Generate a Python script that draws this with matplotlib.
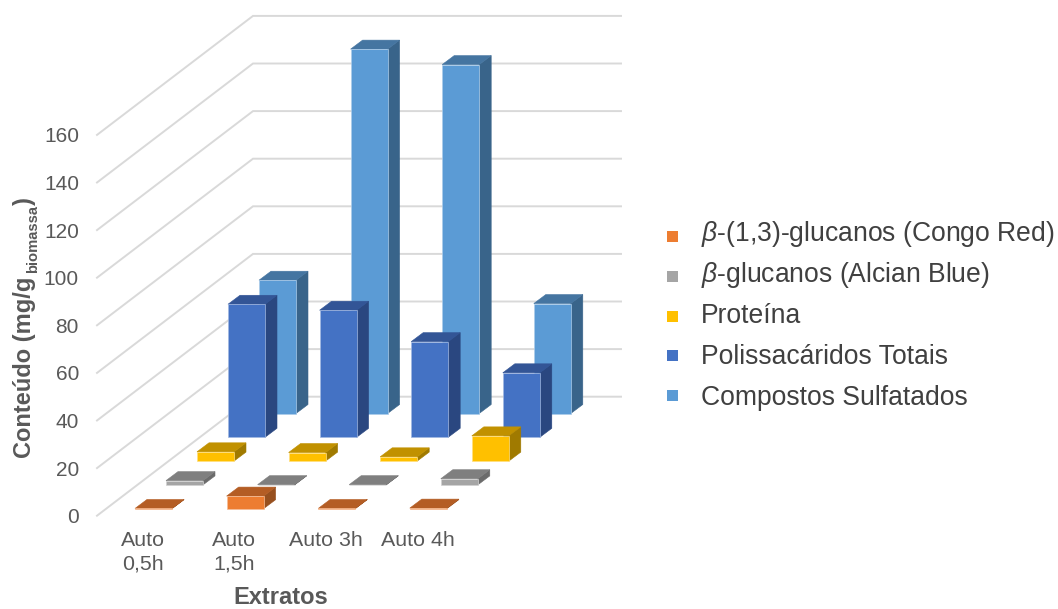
import matplotlib
matplotlib.use("Agg")
import matplotlib.pyplot as plt
from matplotlib.patches import Polygon, Rectangle
from matplotlib.transforms import Affine2D

plt.rcParams['font.family'] = ['Liberation Sans', 'DejaVu Sans']
plt.rcParams['mathtext.fontset'] = 'custom'
plt.rcParams['mathtext.rm'] = 'Liberation Sans'
plt.rcParams['mathtext.it'] = 'Liberation Sans:italic'
plt.rcParams['mathtext.bf'] = 'Liberation Sans:bold'
plt.rcParams['mathtext.default'] = 'regular'

categories = ["Auto\n0,5h", "Auto\n1,5h", "Auto 3h", "Auto 4h"]
yticks = [0, 20, 40, 60, 80, 100, 120, 140, 160]

# front row first, same order as the legend
congo = [0.1, 5.3, 0.1, 0.25]
alcian = [1.8, 0.1, 0.1, 2.6]
proteina = [3.9, 3.6, 1.8, 10.6]
polissacaridos = [55.9, 53.4, 40.2, 27.1]
sulfatados = [56.0, 153.1, 146.6, 46.2]

series = [congo, alcian, proteina, polissacaridos, sulfatados]
labels = [r"$\mathit{\beta}$-(1,3)-glucanos (Congo Red)",
          r"$\mathit{\beta}$-glucanos (Alcian Blue)",
          "Proteína", "Polissacáridos Totais", "Compostos Sulfatados"]

front_col = ["#ED7D31", "#A5A5A5", "#FFC000", "#4472C4", "#5B9BD5"]
top_col = ["#B45D24", "#7F7F7F", "#C19100", "#335596", "#4575A1"]
side_col = ["#97501F", "#6B6B6B", "#A07A00", "#2A4780", "#39648A"]
edge_col = ["#F6BE98", "#D2D2D2", "#FFDF80", "#A2B8E1", "#ADCDEA"]

W, H = 1058, 609
X0, Y0 = 97, 515.7      # pixel position of category 0, value 0, front of the floor
CAT_PX = 91.6
VAL_PX = 2.38

# oblique projection, all in axes units (1 x unit = one category)
ROW_DX, ROW_DV = 31 / CAT_PX, 10.0
WALL_DX, WALL_DV = 156 / CAT_PX, 50.0
WALL_W = 368 / CAT_PX
BAR_X0, BAR_V0 = 38 / CAT_PX, 7 / VAL_PX
BAR_W = 37 / CAT_PX
BAR_DX, BAR_DV = 12 / CAT_PX, 9 / VAL_PX

fig = plt.figure(figsize=(W / 100, H / 100), dpi=100)
ax = fig.add_axes([0, 0, 1, 1])
ax.set_xlim(-X0 / CAT_PX, (W - X0) / CAT_PX)
ax.set_ylim((Y0 - H) / VAL_PX, Y0 / VAL_PX)
ax.axis("off")

# pixel coordinates from the top left, for the texts outside the plot
pix = Affine2D().scale(1, -1).translate(0, H)

for v in yticks:
    ax.plot([0, WALL_DX, WALL_DX + WALL_W], [v, v + WALL_DV, v + WALL_DV],
            color="#D9D9D9", lw=1.4, solid_joinstyle="miter", zorder=1)
    ax.text(-18 / CAT_PX, v, str(v), ha="right", va="center_baseline",
            fontsize=15, color="#595959")

z = 2
for r in range(len(series) - 1, -1, -1):
    for i, val in enumerate(series[r]):
        x = i + BAR_X0 + r * ROW_DX
        b = BAR_V0 + r * ROW_DV
        t = b + val
        x2 = x + BAR_W
        xb, vb = BAR_DX, BAR_DV
        ax.add_patch(Polygon([(x2, b), (x2 + xb, b + vb), (x2 + xb, t + vb), (x2, t)],
                             facecolor=side_col[r], edgecolor=side_col[r], lw=0.4, zorder=z))
        ax.add_patch(Polygon([(x, t), (x2, t), (x2 + xb, t + vb), (x + xb, t + vb)],
                             facecolor=top_col[r], edgecolor=top_col[r], lw=0.4, zorder=z))
        ax.add_patch(Polygon([(x, b), (x2, b), (x2, t), (x, t)],
                             facecolor=front_col[r], edgecolor=edge_col[r], lw=0.5,
                             joinstyle="miter", zorder=z))
        z += 1

for i, c in enumerate(categories):
    ax.text(i + 0.5, (Y0 - 531) / VAL_PX, c, ha="center", va="top", fontsize=15.4,
            color="#595959", linespacing=1.27, multialignment="center")

ax.text(281, 604, "Extratos", transform=pix, ha="center", va="baseline",
        fontsize=17, fontweight="bold", color="#595959")

# axis title in three pieces, the subscript is smaller than mathtext would make it
ytitle_parts = ["Conteúdo (mg/g", "biomassa", ")"]
ytitle_pos = [(31, 458), (37, 273), (31, 205)]
ytitle_size = [17, 10.6, 17]
for part, (px, py), fs in zip(ytitle_parts, ytitle_pos, ytitle_size):
    ax.text(px, py, part, transform=pix, rotation=90, rotation_mode="anchor",
            ha="left", va="baseline", fontsize=fs, fontweight="bold", color="#595959")

legend_text_y = [234, 275, 316, 357, 398]
legend_mark_y = [236, 276, 316, 355, 395]
for lab, col, ty, my in zip(labels, front_col, legend_text_y, legend_mark_y):
    ax.add_patch(Rectangle((667, my - 5.5), 11, 11, transform=pix, facecolor=col,
                           edgecolor="none", zorder=3))
    ax.text(701, ty, lab, transform=pix, ha="left", va="center", fontsize=19.1,
            color="#404040")

fig.savefig("out.png", dpi=100)
